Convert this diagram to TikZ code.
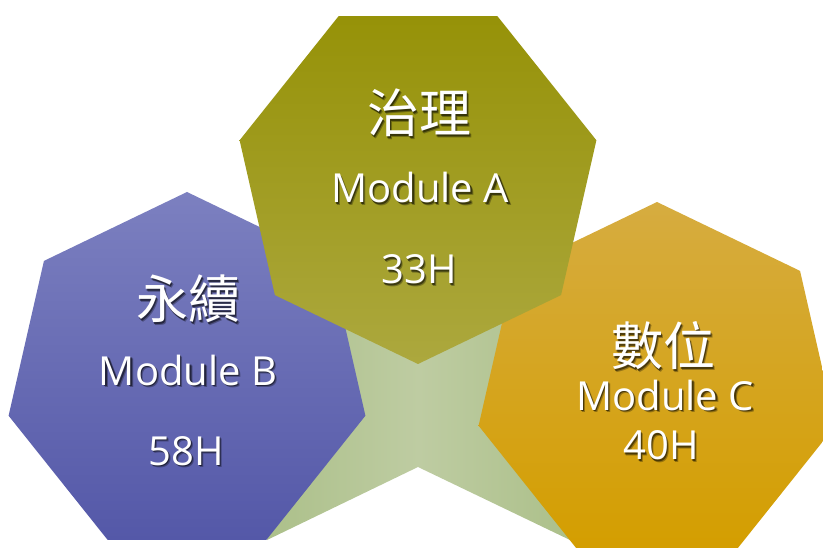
\documentclass[tikz,border=0pt]{standalone}
\usepackage{fontspec}
\setmainfont{Open Sans}
\newfontfamily\cjk{Noto Sans CJK TC}
\usepackage{tikz}
\usetikzlibrary{shapes.geometric}
\usetikzlibrary{calc}

\definecolor{purtop}{RGB}{124,128,192}
\definecolor{purbot}{RGB}{84,88,168}
\definecolor{olvtop}{RGB}{150,146,8}
\definecolor{olvbot}{RGB}{172,168,62}
\definecolor{gldtop}{RGB}{214,172,64}
\definecolor{gldbot}{RGB}{212,158,0}
\definecolor{grnside}{RGB}{172,192,138}
\definecolor{grnmid}{RGB}{190,204,162}

\tikzset{
  hepta/.style={regular polygon,regular polygon sides=7,minimum size=366pt,inner sep=0pt,outer sep=0pt},
  cjktxt/.style={text=white,inner sep=0pt,font=\cjk\fontsize{52}{52}\selectfont},
  modtxt/.style={text=white,inner sep=0pt,anchor=base,font=\fontsize{40}{40}\selectfont},
}
% white text with a soft dark copy behind it
\def\shadowtext[#1](#2)(#3)#4{%
  \node[#1,text=black,opacity=0.3] (#3-sh2) at ($(#2)+(2.6,2.6)$) {#4};
  \node[#1,text=black,opacity=0.5] (#3-sh) at ($(#2)+(1.6,1.6)$) {#4};
  \node[#1] (#3) at (#2) {#4};}

\begin{document}
\begin{tikzpicture}[x=1pt,y=-1pt]
        \useasboundingbox (0,0) rectangle (823,548);
        \clip (0,0) rectangle (823,548);

        % the green star behind the three modules
        \shade[left color=grnside,right color=grnside,middle color=grnmid]
          (267,540)--(418,467)--(570,540)--(540,310)--(418,290)--(300,310)--cycle;

        \node[hepta,top color=purtop,bottom color=purbot] (yongxu) at (187,375) {};
        \node[hepta,top color=gldtop,bottom color=gldbot] (shuwei) at (657,385) {};
        \node[hepta,shape border rotate=180,top color=olvtop,bottom color=olvbot] (zhili) at (418,181) {};

        \shadowtext[cjktxt](419,113)(zhiliname){治理}
        \shadowtext[modtxt](420,203)(moda){Module A}
        \shadowtext[modtxt](419,284)(hoursa){33H}

        \shadowtext[cjktxt](188,299)(yongxuname){永續}
        \shadowtext[modtxt](188,385)(modb){Module B}
        \shadowtext[modtxt](186,465)(hoursb){58H}

        \shadowtext[cjktxt](663,346)(shuweiname){數位}
        \shadowtext[modtxt](665,410)(modc){Module C}
        \shadowtext[modtxt](661,460)(hoursc){40H}
    \end{tikzpicture}
\end{document}
